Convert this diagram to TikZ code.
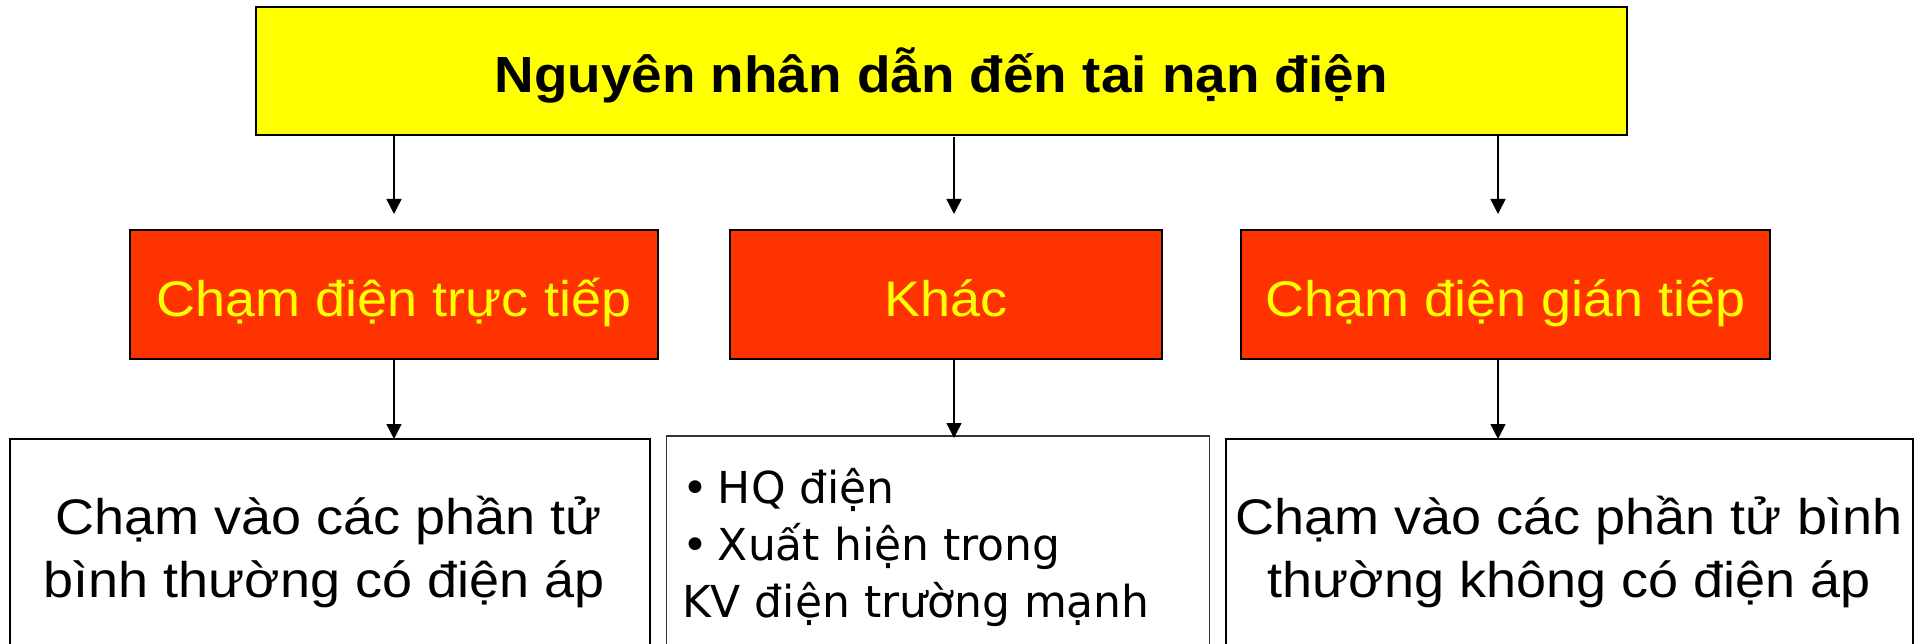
\documentclass[tikz,border=0pt]{standalone}
\usepackage{fontspec}
\setmainfont{Liberation Sans}[FakeStretch=1.08]
\newfontfamily\dejavu{DejaVu Sans}
\usetikzlibrary{arrows.meta}

\definecolor{headyellow}{HTML}{FFFF00}
\definecolor{causered}{HTML}{FF3300}

\begin{document}
\begin{tikzpicture}[x=1pt,y=-1pt,
  every node/.style={inner sep=0pt, outer sep=0pt},
  headbox/.style={draw=black, line width=2pt, fill=headyellow,
    font=\fontsize{50.8}{60}\selectfont\bfseries, text height=44pt, text depth=0pt},
  causebox/.style={draw=black, line width=2pt, fill=causered, text=headyellow,
    minimum height=129pt, font=\fontsize{50}{60}\selectfont, text height=44pt, text depth=0pt},
  detailbox/.style={draw=black, line width=2pt, fill=white},
  detailtext/.style={font=\fontsize{50}{63}\selectfont, align=center, anchor=base},
  link/.style={draw=black, line width=1.5pt, -{Triangle[length=15pt,width=15pt]}}
]
\useasboundingbox (0,0) rectangle (1916,644);
\clip (0,0) rectangle (1916,644);

% heading
\node[headbox, minimum width=1371pt, minimum height=128pt] (top) at (941,71)
  {Nguyên nhân dẫn đến tai nạn điện};

% three kinds of cause
\node[causebox, minimum width=528pt] (r1) at (394,294.5) {Chạm điện trực tiếp};
\node[causebox, minimum width=432pt] (r2) at (946,294.5) {Khác};
\node[causebox, minimum width=529pt] (r3) at (1505.5,294.5) {Chạm điện gián tiếp};

% detail boxes, running off the lower edge
\node[detailbox, minimum width=640pt, minimum height=261pt] (b1) at (330,569.5) {};
\node[detailbox, draw=black!80, line width=1.5pt, minimum width=543pt, minimum height=264pt] (b2) at (938,568) {};
\node[detailbox, minimum width=687pt, minimum height=261pt] (b3) at (1569,569.5) {};

% text blocks (base anchor sits on the last line)
\node[detailtext] (t1) at (324,597) {\hspace*{10pt}Chạm vào các phần tử\\bình thường có điện áp};
\node[font=\dejavu\fontsize{44}{57}\selectfont, align=left, anchor=base west] (t2) at (682,617)
  {•\hspace{10pt}HQ điện\\•\hspace{10pt}Xuất hiện trong\\KV điện trường mạnh};
\node[detailtext] (t3) at (1569,597) {Chạm vào các phần tử bình\\thường không có điện áp};

% connector columns
\coordinate (c1) at (394,0);
\coordinate (c2) at (954,0);
\coordinate (c3) at (1498,0);

\draw[link, shorten >=16pt] (c1 |- top.south) -- (c1 |- r1.north);
\draw[link, shorten >=16pt, shorten <=2pt] (c2 |- top.south) -- (c2 |- r2.north);
\draw[link, shorten >=16pt] (c3 |- top.south) -- (c3 |- r3.north);

\draw[link] (c1 |- r1.south) -- (c1 |- b1.north);
\draw[link, shorten >=-2pt] (c2 |- r2.south) -- (c2 |- b2.north);
\draw[link] (c3 |- r3.south) -- (c3 |- b3.north);
\end{tikzpicture}
\end{document}
